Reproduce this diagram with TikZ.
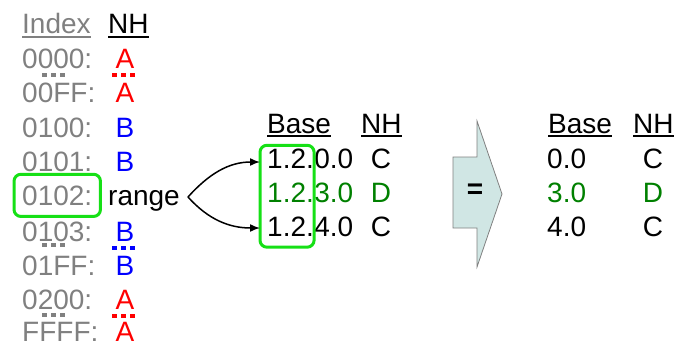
\documentclass[tikz,border=0pt]{standalone}
\usepackage{fontspec}
\setmainfont{Liberation Sans}
\usetikzlibrary{arrows.meta,fit,positioning}

\definecolor{idxgray}{HTML}{808080}
\definecolor{nhred}{HTML}{FF0000}
\definecolor{nhblue}{HTML}{0000FF}
\definecolor{nhgreen}{HTML}{008000}
\definecolor{boxgreen}{HTML}{16E016}
\definecolor{eqfill}{HTML}{D0E6E4}

\begin{document}
\begin{tikzpicture}[x=1pt,y=-1pt,
  every node/.style={inner sep=0pt,font=\fontsize{28}{34}\selectfont},
  idx/.style={anchor=base west,text=idxgray},
  hop/.style={anchor=base},
  dots/.style={line width=4pt,dash pattern=on 5pt off 4pt},
  uline/.style={line width=1.6pt},
  gbox/.style={draw=boxgreen,line width=3pt,rounded corners=7pt},
  spread/.style={-{Latex[length=10pt,width=8pt]},line width=1.5pt}]

\useasboundingbox (0,0) rectangle (677,345);

% index table
\node[idx] (ihead) at (22,34) {Index};
\node[anchor=base west] (nhead) at (108,34) {NH};
\draw[uline,idxgray] ([yshift=-3pt]ihead.base west) -- ([yshift=-3pt]ihead.base east);
\draw[uline] ([yshift=-3pt]nhead.base west) -- ([yshift=-3pt]nhead.base east);

\node[idx] (i0000) at (22,68) {0000:};
\node[idx] (i00FF) at (22,102) {00FF:};
\node[idx] (i0100) at (22,137) {0100:};
\node[idx] (i0101) at (22,171) {0101:};
\node[idx] (i0102) at (22,205) {0102:};
\node[idx] (i0103) at (22,241) {0103:};
\node[idx] (i01FF) at (22,275) {01FF:};
\node[idx] (i0200) at (22,309) {0200:};
\node[idx] (iFFFF) at (22,341) {FFFF:};

\node[hop,text=nhred] (n0000) at (125,68) {A};
\node[hop,text=nhred] (n00FF) at (125,102) {A};
\node[hop,text=nhblue] (n0100) at (125,137) {B};
\node[hop,text=nhblue] (n0101) at (125,171) {B};
\node[anchor=base west] (range) at (108,205) {range};
\node[hop,text=nhblue] (n0103) at (125,241) {B};
\node[hop,text=nhblue] (n01FF) at (125,275) {B};
\node[hop,text=nhred] (n0200) at (125,309) {A};
\node[hop,text=nhred] (nFFFF) at (125,341) {A};

% skipped rows
\draw[dots,idxgray] (42,75) -- (65,75);
\draw[dots,nhred] (112,75) -- (137,75);
\draw[dots,idxgray] (42,245) -- (65,245);
\draw[dots,nhblue] (112,248) -- (137,248);
\draw[dots,idxgray] (42,315) -- (65,315);
\draw[dots,nhred] (112,316) -- (137,316);

\node[gbox,fit=(i0102),inner xsep=8pt,inner ysep=11pt] (sel) {};

% range table
\node[anchor=base west] (bhead) at (267,133) {Base};
\node[anchor=base west] (rhead) at (361,133) {NH};
\draw[uline] ([yshift=-3pt]bhead.base west) -- ([yshift=-3pt]bhead.base east);
\draw[uline] ([yshift=-3pt]rhead.base west) -- ([yshift=-3pt]rhead.base east);

\node[anchor=base west] (pre1) at (267,168) {1.2.};
\node[anchor=base west] (suf1) at (pre1.base east) {0.0};
\node[hop] (hop1) at (381,168) {C};
\node[anchor=base west,text=nhgreen] (pre2) at (267,202) {1.2.};
\node[anchor=base west,text=nhgreen] (suf2) at (pre2.base east) {3.0};
\node[hop,text=nhgreen] (hop2) at (381,202) {D};
\node[anchor=base west] (pre3) at (267,236) {1.2.};
\node[anchor=base west] (suf3) at (pre3.base east) {4.0};
\node[hop] (hop3) at (381,236) {C};

\draw[gbox] ([xshift=-7pt,yshift=3pt]pre1.north west)
  rectangle ([xshift=0pt,yshift=-11pt]pre3.south east);

\coordinate (fork) at (188,197);
\draw[spread] (fork) to[out=48,in=180] ([xshift=-7pt,yshift=6pt]pre1.base west);
\draw[spread] (fork) to[out=-48,in=180] ([xshift=-7pt,yshift=8pt]pre3.base west);

% equals arrow
\draw[draw=gray,fill=eqfill,line width=0.8pt]
  (453,157) -- (477,157) -- (477,121) -- (502,194)
  -- (477,267) -- (477,228) -- (453,228) -- cycle;
\node (eq) at (475,191) {\bfseries =};

% result table
\node[anchor=base west] (b2head) at (548,133) {Base};
\node[anchor=base west] (r2head) at (633,133) {NH};
\draw[uline] ([yshift=-3pt]b2head.base west) -- ([yshift=-3pt]b2head.base east);
\draw[uline] ([yshift=-3pt]r2head.base west) -- ([yshift=-3pt]r2head.base east);

\node[anchor=base west] (res1) at (547,168) {0.0};
\node[hop] (rhop1) at (653,168) {C};
\node[anchor=base west,text=nhgreen] (res2) at (547,202) {3.0};
\node[hop,text=nhgreen] (rhop2) at (653,202) {D};
\node[anchor=base west] (res3) at (547,236) {4.0};
\node[hop] (rhop3) at (653,236) {C};

\end{tikzpicture}
\end{document}
